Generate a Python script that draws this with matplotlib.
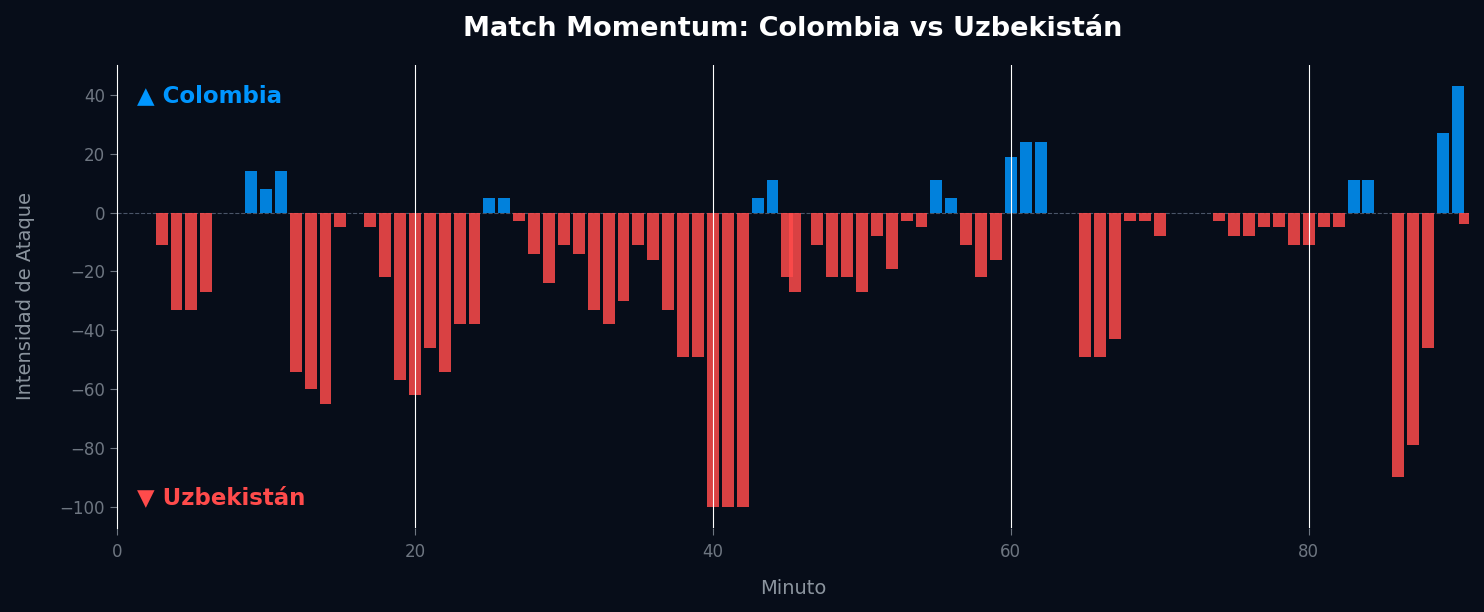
import matplotlib
matplotlib.use("Agg")
import matplotlib.pyplot as plt

# ---- data ----
minutes = [1, 2, 3, 4, 5, 6, 7, 8, 9, 10, 11, 12, 13, 14, 15, 16, 17, 18, 19, 20,
           21, 22, 23, 24, 25, 26, 27, 28, 29, 30, 31, 32, 33, 34, 35, 36, 37, 38, 39, 40,
           41, 42, 43, 44, 45, 45.5, 46, 47, 48, 49, 50, 51, 52, 53, 54, 55, 56, 57, 58, 59,
           60, 61, 62, 63, 64, 65, 66, 67, 68, 69, 70, 71, 72, 73, 74, 75, 76, 77, 78, 79,
           80, 81, 82, 83, 84, 85, 86, 87, 88, 89, 90, 90.5]
momentum = [0, 0, -11, -33, -33, -27, 0, 0, 14, 8, 14, -54, -60, -65, -5, 0, -5, -22, -57, -62,
            -46, -54, -38, -38, 5, 5, -3, -14, -24, -11, -14, -33, -38, -30, -11, -16, -33, -49, -49, -100,
            -100, -100, 5, 11, -22, -27, 0, -11, -22, -22, -27, -8, -19, -3, -5, 11, 5, -11, -22, -16,
            19, 24, 24, 0, 0, -49, -49, -43, -3, -3, -8, 0, 0, 0, -3, -8, -8, -5, -5, -11,
            -11, -5, -5, 11, 11, 0, -90, -79, -46, 27, 43, -4]
period_lines = [20, 40, 60, 80]
home_team = "Colombia"
away_team = "Uzbekistán"

BG = "#070d19"
HOME_C = "#0096ff"
AWAY_C = "#ff4b4b"

fig = plt.figure(figsize=(14.84, 6.12), dpi=100, facecolor=BG)
ax = fig.add_axes([0.0788, 0.1373, 0.9111, 0.7565])
ax.set_facecolor(BG)

colors = [HOME_C if v > 0 else AWAY_C for v in momentum]
ax.bar(minutes, momentum, width=0.8, color=colors, alpha=0.85, zorder=2)

ax.axhline(0, color="#4a5568", linestyle="--", linewidth=0.8, zorder=1)
for p in period_lines:
    ax.axvline(p, color="white", linewidth=0.8, zorder=3)

ax.set_xlim(0, 90.75)
ax.margins(y=0.05)

for s in ["top", "right", "bottom"]:
    ax.spines[s].set_visible(False)
ax.spines["left"].set_color("white")
ax.spines["left"].set_linewidth(0.8)

ax.tick_params(colors="#6e7681", labelsize=12, length=5)
ax.tick_params(axis="x", pad=6)
ax.set_xticks([0, 20, 40, 60, 80])
ax.set_yticks([40, 20, 0, -20, -40, -60, -80, -100])

ax.set_xlabel("Minuto", color="#8b949e", fontsize=14, labelpad=12.5)
ax.set_ylabel("Intensidad de Ataque", color="#8b949e", fontsize=14, labelpad=18)
ax.set_title(f"Match Momentum: {home_team} vs {away_team}", color="white",
             fontsize=19.5, fontweight="bold", pad=21)

ax.text(0.015, 0.933, f"▲ {home_team}", transform=ax.transAxes, color=HOME_C,
        fontsize=16.5, fontweight="bold", va="center", ha="left")
ax.text(0.015, 0.065, f"▼ {away_team}", transform=ax.transAxes, color=AWAY_C,
        fontsize=16.5, fontweight="bold", va="center", ha="left")

fig.savefig("out.png", dpi=100, facecolor=BG)
